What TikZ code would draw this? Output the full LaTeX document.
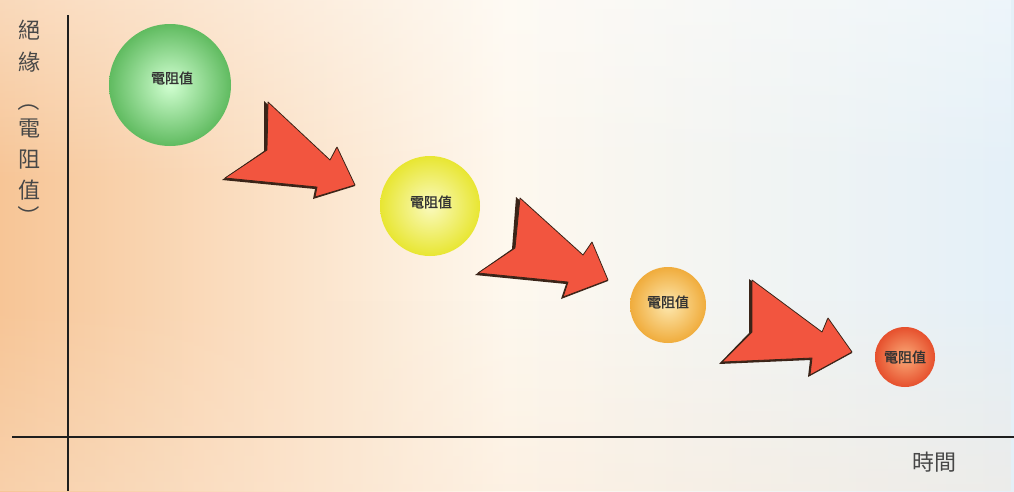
\documentclass[tikz,border=0pt]{standalone}
\usepackage{fontspec}
\newfontfamily\cjk{Noto Sans CJK TC}
\newfontfamily\cjkb[FakeBold=1.2]{Noto Sans CJK TC}
\usetikzlibrary{fadings}
\definecolor{peach}{HTML}{F7C596}
\definecolor{cream}{HTML}{FEF8EE}
\definecolor{paleblue}{HTML}{E4F0F8}
\definecolor{arrowred}{HTML}{F2553F}
\definecolor{arrowdark}{HTML}{3A2418}
\definecolor{axis}{HTML}{1E1E1E}
\tikzset{
  ball/.style={circle, minimum size=#1, inner sep=0pt, font=\cjkb\fontsize{14}{14}\selectfont, text=black!80},
  bigarrow/.style={fill=arrowred, draw=arrowdark, line width=0.8pt, line join=round},
  arrowshadow/.style={fill=arrowdark},
  axisline/.style={draw=axis, line width=2.2pt},
  lbl/.style={font=\cjk\fontsize{22}{24}\selectfont, text=black!72, inner sep=0pt}
}
\begin{document}
\begin{tikzpicture}[x=1pt,y=-1pt]
\useasboundingbox (0,0) rectangle (1014,491);
% background
\shade[left color=peach, right color=paleblue, middle color=cream] (0,0) rectangle (1014,491);
\fill[peach!45!white, opacity=0.35, path fading=north] (0,300) rectangle (1014,491);
\fill[white, opacity=0.35, path fading=south] (0,0) rectangle (1014,180);
% axes
\coordinate (ytop) at (68,15);
\coordinate (ybot) at (68,491);
\coordinate (xleft) at (12,437);
\coordinate (xright) at (1014,437);
\draw[axisline] (ytop) -- (ybot);
\draw[axisline] (xleft) -- (xright);
% balls
\shade[inner color=green!18!white, outer color={rgb,255:red,96;green,187;blue,96}] (170,85) circle (61);
\node[ball=100pt] (b1) at (172,78) {電阻值};
\shade[inner color={rgb,255:red,250;green,250;blue,190}, outer color={rgb,255:red,232;green,230;blue,50}] (430,206) circle (50);
\node[ball=80pt] (b2) at (431,202) {電阻值};
\shade[inner color={rgb,255:red,253;green,232;blue,175}, outer color={rgb,255:red,240;green,172;blue,60}] (668,305) circle (38);
\node[ball=60pt] (b3) at (668,302) {電阻值};
\shade[inner color={rgb,255:red,250;green,170;blue,120}, outer color={rgb,255:red,230;green,80;blue,45}] (905,357) circle (30);
\node[ball=50pt] (b4) at (905,357) {電阻值};
% arrows
\fill[arrowshadow] (222,180) -- (264,151) -- (264,101) -- (330,162) -- (336,148) -- (355,186) -- (313,199) -- (315,189) -- cycle;
\draw[bigarrow] (225,178) -- (267,150) -- (268,102) -- (330,160) -- (337,147) -- (355,185) -- (315,197) -- (317,187) -- cycle;
\fill[arrowshadow] (475,275) -- (512,249) -- (516,197) -- (583,257) -- (591,243) -- (608,281) -- (561,299) -- (566,284) -- cycle;
\draw[bigarrow] (478,273) -- (515,248) -- (520,198) -- (583,255) -- (592,242) -- (608,280) -- (563,297) -- (568,282) -- cycle;
\fill[arrowshadow] (719,364) -- (749,333) -- (749,279) -- (822,334) -- (827,319) -- (852,353) -- (808,377) -- (810,360) -- cycle;
\draw[bigarrow] (722,362) -- (752,332) -- (752,280) -- (822,332) -- (828,318) -- (852,352) -- (810,375) -- (812,358) -- cycle;
% labels
\node[lbl] (y1) at (29,30) {絕};
\node[lbl] (y2) at (29,62) {緣};
\node[lbl, rotate=-90] (y3) at (29,100) {（};
\node[lbl] (y4) at (29,128) {電};
\node[lbl] (y5) at (29,160) {阻};
\node[lbl] (y6) at (29,190) {值};
\node[lbl, rotate=-90] (y7) at (29,216) {）};
\node[lbl] (xlab) at (934,462) {時間};
\end{tikzpicture}
\end{document}
